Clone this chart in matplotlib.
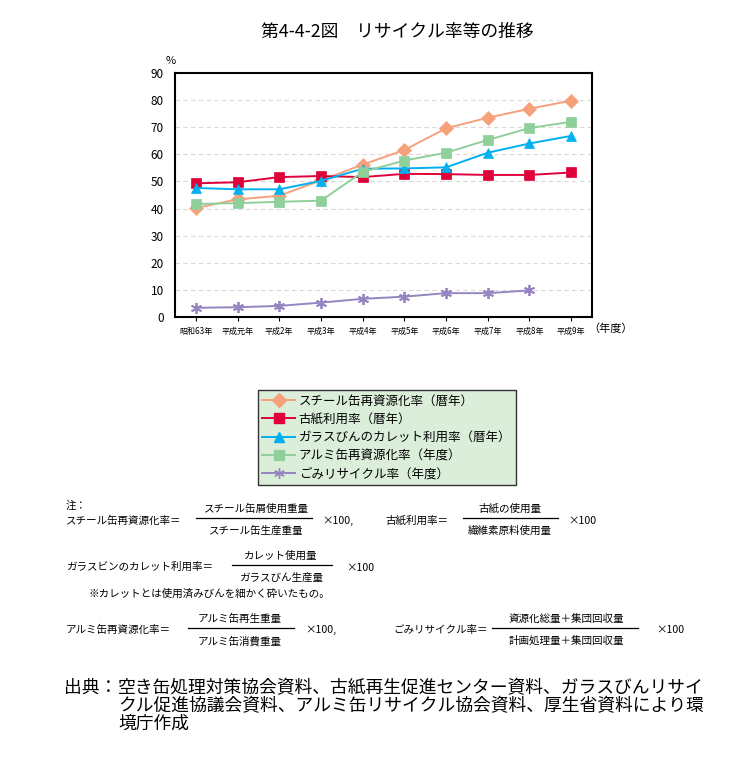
import numpy as np
import matplotlib
matplotlib.use("Agg")
import matplotlib.pyplot as plt
from matplotlib.lines import Line2D

plt.rcParams['font.family'] = ['Noto Sans CJK JP', 'DejaVu Sans']

# 年次（カテゴリ）
years = ['昭和63年', '平成元年', '平成2年', '平成3年', '平成4年',
         '平成5年', '平成6年', '平成7年', '平成8年', '平成9年']

# 各系列の値（%）
steel = [40.2, 43.4, 44.7, 50.4, 56.2, 61.6, 69.6, 73.5, 76.8, 79.8]
paper = [49.3, 49.7, 51.6, 52.0, 51.6, 52.8, 52.7, 52.4, 52.4, 53.3]
glass = [47.6, 47.1, 47.1, 50.2, 54.7, 54.8, 55.2, 60.6, 64.0, 66.8]
alumi = [41.7, 42.0, 42.5, 42.9, 53.5, 57.7, 60.6, 65.3, 69.7, 72.0]
gomi = [3.4, 3.6, 4.1, 5.3, 6.7, 7.5, 8.8, 8.8, 9.8, None]

labels = ['スチール缶再資源化率（暦年）', '古紙利用率（暦年）',
          'ガラスびんのカレット利用率（暦年）', 'アルミ缶再資源化率（年度）',
          'ごみリサイクル率（年度）']
colors = ['#f7a07c', '#e0003a', '#00b0f0', '#8fd09a', '#9585c0']
markers = ['D', 's', '^', 's', (6, 2, 0)]
msizes = [7.5, 7.5, 7.5, 7.5, 8]

W, H = 733, 757
fig = plt.figure(figsize=(W / 100, H / 100), dpi=100)


def fx(px):
    return px / W


def fy(py):
    return 1 - py / H


ax = fig.add_axes([fx(175), fy(317), fx(592) - fx(175), fy(73) - fy(317)])

x = np.arange(len(years))
series = [steel, paper, glass, alumi, gomi]
for vals, c, m, ms, lab in zip(series, colors, markers, msizes, labels):
    v = np.array([np.nan if a is None else a for a in vals], dtype=float)
    mew = 1.3 if m == (6, 2, 0) else 0.5
    ax.plot(x, v, color=c, marker=m, markersize=ms, lw=1.4,
            markeredgecolor=c, markeredgewidth=mew, label=lab)

ax.set_xlim(-0.5, len(years) - 0.5)
ax.set_ylim(0, 90)
ax.set_yticks(np.arange(0, 91, 10))
ax.set_xticks(x)
ax.set_xticklabels(years, fontsize=5.8)
ax.tick_params(axis='y', labelsize=8.5, length=0, pad=8)
ax.tick_params(axis='x', length=3, width=0.8, pad=4)
for yv in range(10, 90, 10):
    ax.axhline(yv, color='#d9d9d9', lw=0.8, ls=(0, (4, 3)), zorder=0)
for s in ax.spines.values():
    s.set_linewidth(1.5)
    s.set_color('black')

fig.text(fx(166), fy(61), '%', fontsize=8, va='center')
fig.text(fx(588), fy(329), '（年度）', fontsize=8, va='center')
fig.text(fx(397), fy(32), '第4-4-2図　リサイクル率等の推移', fontsize=12.8,
         ha='center', va='center')

# 凡例
handles = [Line2D([], [], color=c, marker=m, markersize=ms * 0.95, lw=1.4,
                  markeredgecolor=c) for c, m, ms in zip(colors, markers, msizes)]
leg = fig.legend(handles, labels, loc='upper left',
                 bbox_to_anchor=(fx(258), fy(390)), borderaxespad=0,
                 fontsize=9, frameon=True, fancybox=False, handlelength=2.6,
                 handletextpad=0.3, labelspacing=0.42, borderpad=0.35)
leg.get_frame().set_facecolor('#daeeda')
leg.get_frame().set_edgecolor('#333333')
leg.get_frame().set_linewidth(1.0)
leg.get_frame().set_alpha(1)

# 注
nfs = 7.6


def note(px, py, s, ha='left'):
    fig.text(fx(px), fy(py), s, fontsize=nfs, ha=ha, va='center')


def frac(cx, py, num, den, x0, x1):
    note(cx, py - 11, num, ha='center')
    note(cx, py + 11, den, ha='center')
    fig.add_artist(Line2D([fx(x0), fx(x1)], [fy(py - 2), fy(py - 2)],
                          color='black', lw=0.9))


note(66, 506, '注：')
note(66, 521, 'スチール缶再資源化率＝')
frac(256, 520, 'スチール缶屑使用重量', 'スチール缶生産重量', 196, 312)
note(322, 521, '×100,')
note(385, 521, '古紙利用率＝')
frac(510, 520, '古紙の使用量', '繊維素原料使用量', 463, 558)
note(568, 521, '×100')

note(66, 567, 'ガラスビンのカレット利用率＝')
frac(281, 567, 'カレット使用量', 'ガラスびん生産量', 232, 332)
note(346, 568, '×100')
note(88, 594, '※カレットとは使用済みびんを細かく砕いたもの。')

note(66, 630, 'アルミ缶再資源化率＝')
frac(240, 630, 'アルミ缶再生重量', 'アルミ缶消費重量', 188, 294)
note(305, 630, '×100,')
note(393, 630, 'ごみリサイクル率＝')
frac(566, 630, '資源化総量＋集団回収量', '計画処理量＋集団回収量', 492, 638)
note(656, 630, '×100')

# 出典
sfs = 12.8
fig.text(fx(64), fy(688), '出典：', fontsize=sfs, va='center')
src = ['空き缶処理対策協会資料、古紙再生促進センター資料、ガラスびんリサイ',
       'クル促進協議会資料、アルミ缶リサイクル協会資料、厚生省資料により環',
       '境庁作成']
for i, line in enumerate(src):
    fig.text(fx(118), fy(688 + 18 * i), line, fontsize=sfs, va='center')

fig.savefig('out.png', dpi=100, facecolor='white')
